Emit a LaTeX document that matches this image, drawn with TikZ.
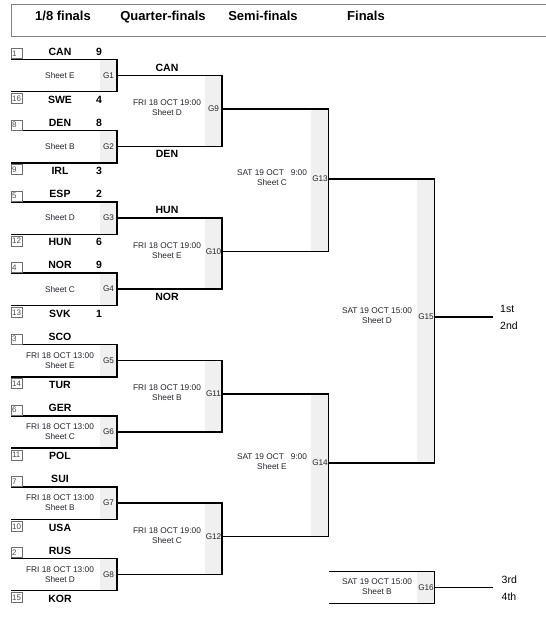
\documentclass[tikz,border=0pt]{standalone}
\usepackage{fontspec}
\setmainfont{Liberation Sans}
\definecolor{stripgray}{RGB}{240,240,240}
\definecolor{seedgray}{RGB}{110,110,110}
\definecolor{infotext}{RGB}{35,35,45}
\definecolor{headgray}{RGB}{130,130,130}
\begin{document}
\begin{tikzpicture}[x=1pt,y=-1pt,
  bline/.style={line width=1.5pt, line join=miter, black},
  strip/.style={fill=stripgray},
  headframe/.style={draw=headgray, line width=0.8pt},
  headtext/.style={font=\bfseries\fontsize{13}{15}\selectfont, inner sep=0, anchor=base},
  team/.style={font=\bfseries\fontsize{10.5}{12}\selectfont, inner sep=0, anchor=base},
  glabel/.style={font=\fontsize{8.2}{9}\selectfont, inner sep=0, minimum width=17pt, minimum height=8pt, text=black!85},
  info/.style={font=\fontsize{8.3}{10}\selectfont, align=center, inner sep=0, text=infotext},
  seed/.style={draw=seedgray, line width=0.6pt, font=\fontsize{8}{8}\selectfont, text=black!70,
               inner xsep=0.8pt, inner ysep=0pt, minimum height=10pt, text width=9.4pt, align=left},
  rank/.style={font=\fontsize{10.5}{12}\selectfont, inner sep=0, anchor=base west}
]
\useasboundingbox (0,0) rectangle (546,635);

% header
\draw[headframe] (547,4) -- (11,4) -- (11,36) -- (547,36);
\node[headtext] (h1) at (63,20.5) {1/8 finals};
\node[headtext] (h2) at (163,20.5) {Quarter-finals};
\node[headtext] (h3) at (263,20.5) {Semi-finals};
\node[headtext] (h4) at (366,20.5) {Finals};

% 1/8 finals
\foreach \i/\st/\sn/\bt/\bn/\info in {
  1/1/CAN/16/SWE/{Sheet E},
  2/8/DEN/9/IRL/{Sheet B},
  3/5/ESP/12/HUN/{Sheet D},
  4/4/NOR/13/SVK/{Sheet C},
  5/3/SCO/14/TUR/{FRI 18 OCT 13:00\\Sheet E},
  6/6/GER/11/POL/{FRI 18 OCT 13:00\\Sheet C},
  7/7/SUI/10/USA/{FRI 18 OCT 13:00\\Sheet B},
  8/2/RUS/15/KOR/{FRI 18 OCT 13:00\\Sheet D}}{
  \pgfmathsetmacro\T{59.3+(\i-1)*71.29}
  \pgfmathsetmacro\B{\T+32.4}
  \pgfmathsetmacro\O{\T+16}
  \fill[strip] (100,\T) rectangle (117,\B);
  \node[glabel] (G\i) at (108.5,\O) {G\i};
  \node[info] (I\i) at (60,\O) {\info};
  \coordinate (tl\i) at (11,\T);
  \coordinate (bl\i) at (11,\B);
  \draw[bline] (tl\i) -- (tl\i -| G\i.east) -- (bl\i -| G\i.east) -- (bl\i);
  \node[seed, anchor=south west] (S\st) at (11,{\T-0.3}) {\st};
  \node[seed, anchor=north west] (S\bt) at (11,{\B+1.5}) {\bt};
  \node[team] (N\sn) at (60,{\T-4.3}) {\sn};
  \node[team] (N\bn) at (60,{\B+11.6}) {\bn};
}
% scores
\foreach \i/\a/\b in {1/9/4, 2/8/3, 3/2/6, 4/9/1}{
  \pgfmathsetmacro\T{59.3+(\i-1)*71.29}
  \pgfmathsetmacro\B{\T+32.4}
  \node[team] (SA\i) at (99,{\T-4.3}) {\a};
  \node[team] (SB\i) at (99,{\B+11.6}) {\b};
}

% Quarter-finals
\foreach \k/\a/\b/\y/\info in {
  9/1/2/108.9/{Sheet D},
  10/3/4/251.5/{Sheet E},
  11/5/6/394.1/{Sheet B},
  12/7/8/536.7/{Sheet C}}{
  \fill[strip] (205,0 |- G\a.east) rectangle (222,0 |- G\b.east);
  \node[glabel] (G\k) at (213.5,\y) {G\k};
  \draw[bline] (G\a.east) -- (G\k.east |- G\a.east) -- (G\k.east |- G\b.east) -- (G\b.east);
  \node[info] (I\k) at (167,{\y-1}) {FRI 18 OCT 19:00\\\info};
}
\node[team] (QCAN) at (167,71.1) {CAN};
\node[team] (QDEN) at (167,157.8) {DEN};
\node[team] (QHUN) at (167,213.7) {HUN};
\node[team] (QNOR) at (167,300.4) {NOR};

% Semi-finals
\foreach \k/\a/\b/\y/\info in {
  13/9/10/179/{Sheet C},
  14/11/12/463/{Sheet E}}{
  \fill[strip] (311,0 |- G\a.east) rectangle (329,0 |- G\b.east);
  \node[glabel] (G\k) at (320,\y) {G\k};
  \draw[bline] (G\a.east) -- (G\k.east |- G\a.east) -- (G\k.east |- G\b.east) -- (G\b.east);
  \node[info] (I\k) at (272,{\y-1}) {SAT 19 OCT \hphantom{1}9:00\\\info};
}

% Final
\fill[strip] (417,0 |- G13.east) rectangle (435,0 |- G14.east);
\node[glabel] (G15) at (426,317) {G15};
\draw[bline] (G13.east) -- (G15.east |- G13.east) -- (G15.east |- G14.east) -- (G14.east);
\node[info] (I15) at (377,316) {SAT 19 OCT 15:00\\Sheet D};
\coordinate (W15) at (493,317);
\draw[bline] (G15.east) -- (W15);
\node[rank] (first) at (500,312) {1st};
\node[rank] (second) at (500,329) {2nd};

% Bronze
\fill[strip] (417,571.7) rectangle (435,603.3);
\node[glabel] (G16) at (426,587.5) {G16};
\coordinate (tl16) at (329,571.7);
\coordinate (bl16) at (329,603.3);
\draw[bline] (tl16) -- (tl16 -| G16.east) -- (bl16 -| G16.east) -- (bl16);
\node[info] (I16) at (377,587) {SAT 19 OCT 15:00\\Sheet B};
\coordinate (W16) at (493,587.5);
\draw[bline] (G16.east) -- (W16);
\node[rank] (third) at (501.5,583.3) {3rd};
\node[rank] (fourth) at (501.5,600) {4th};
\end{tikzpicture}
\end{document}
